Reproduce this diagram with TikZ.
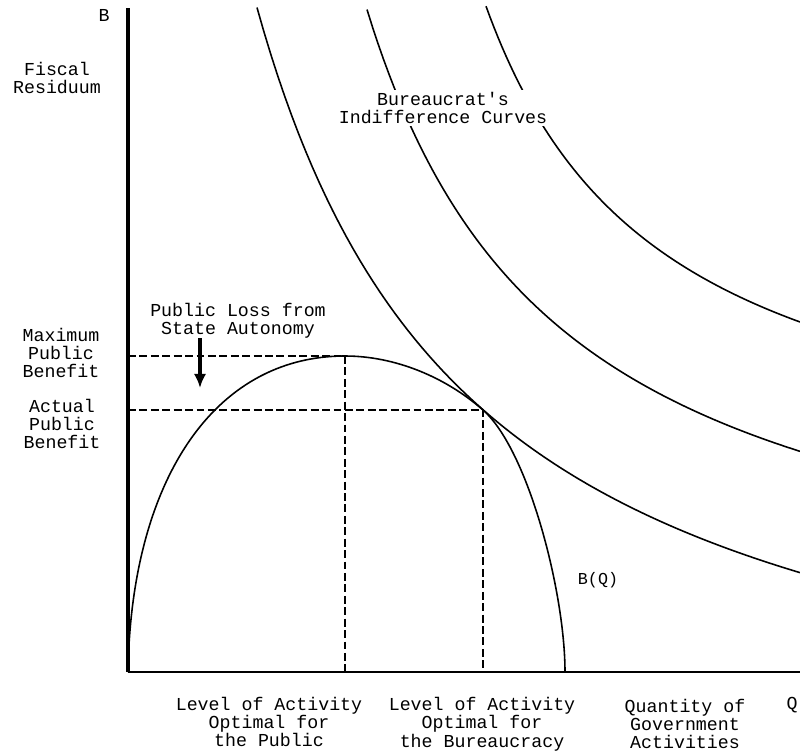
\documentclass[tikz,border=0pt]{standalone}
\usepackage{fontspec}
\setmonofont{Liberation Mono}
\usetikzlibrary{arrows.meta}

\begin{document}
\begin{tikzpicture}[x=0.02cm,y=0.02cm,
    lbl/.style={font=\ttfamily\fontsize{10.4}{10.5}\selectfont,align=center,inner sep=1pt},
    guide/.style={dash pattern=on 4.5pt off 2pt,line width=0.7pt},
    curve/.style={line width=0.9pt}]
    \useasboundingbox (-128,-80) rectangle (672,672);
    % axes
    \coordinate (O) at (0,0);
    \coordinate (ytop) at (0,664);
    \coordinate (xend) at (672,0);
    \draw[line width=2pt] (ytop) -- (O);
    \draw[line width=1.3pt] (O) -- (xend);
    % benefit curve B(Q)
    \coordinate (peak) at (217,316);
    \coordinate (tang) at (355,262);
    \coordinate (qmax) at (437,0);
    \draw[curve] (O) .. controls (3,190) and (85,316) .. (peak)
      .. controls (267,316) and (317.4,295) .. (tang)
      .. controls (400,222.4) and (437,80) .. (qmax);
    % guides
    \coordinate (peakx) at (217,0);
    \coordinate (peaky) at (0,316);
    \coordinate (tangx) at (355,0);
    \coordinate (tangy) at (0,262);
    \draw[guide] (peaky) -- (peak) -- (peakx);
    \draw[guide] (tangy) -- (tang) -- (tangx);
    % indifference curves
    \draw[curve] plot[domain=129:672,samples=80] (\x,{-130+1750/((\x+91.4)*0.01)});
    \draw[curve] plot[domain=239:672,samples=80] (\x,{20+1263/((\x-42.3)*0.01)});
    \draw[curve] plot[domain=358:672,samples=80] (\x,{170+887/((\x-179)*0.01)});
    % labels
    \node[lbl,fill=white] (icurves) at (315,564) {Bureaucrat's\\Indifference Curves};
    \node[lbl] (bname) at (-24,657) {B};
    \node[lbl] (fiscal) at (-71,594) {Fiscal\\Residuum};
    \node[lbl] (maxben) at (-67,319) {Maximum\\Public\\Benefit};
    \node[lbl] (actben) at (-66,248) {Actual\\Public\\Benefit};
    \node[lbl] (loss) at (110,351) {Public Loss from\\State Autonomy};
    \node[lbl,font=\ttfamily\fontsize{9.5}{10}\selectfont] (bq) at (470,92) {B(Q)};
    \node[lbl] (optpub) at (141,-50) {Level of Activity\\Optimal for\\the Public};
    \node[lbl] (optbur) at (354,-52) {Level of Activity\\Optimal for\\the Bureaucracy};
    \node[lbl] (qty) at (557,-52) {Quantity of\\Government\\Activities};
    \node[lbl] (qname) at (664,-33) {Q};
    % loss arrow
    \coordinate (arrtop) at (72,334);
    \coordinate (arrbot) at (72,284);
    \draw[line width=2.2pt,-{Latex[length=8pt,width=7pt]}] (arrtop) -- (arrbot);
\end{tikzpicture}
\end{document}
